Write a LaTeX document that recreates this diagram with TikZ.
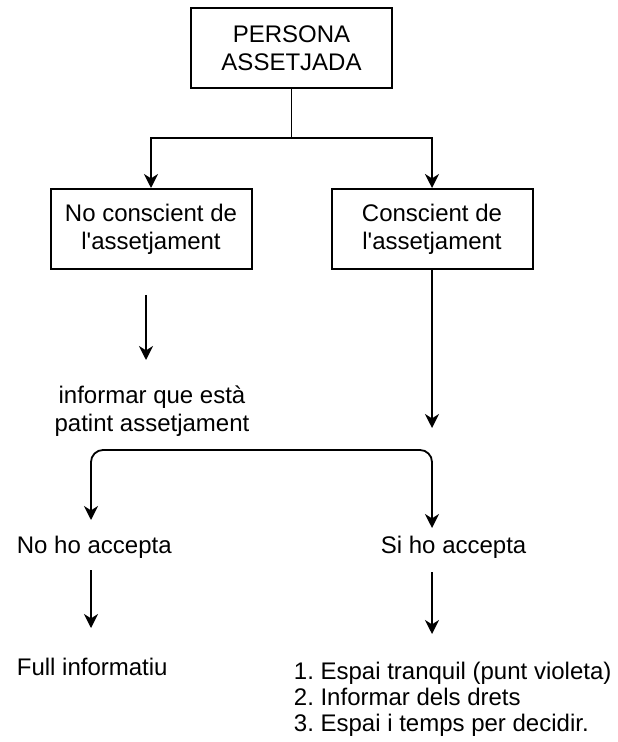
\documentclass[tikz,border=0pt]{standalone}
\usepackage{fontspec}
\setmainfont{Liberation Sans}
\usetikzlibrary{arrows.meta}
\frenchspacing

\begin{document}
\begin{tikzpicture}[x=0.5pt, y=-0.5pt, line width=0.9pt,
        every node/.style={font=\fontsize{12}{14}\selectfont, align=center, inner sep=0pt},
        box/.style={draw, line width=1pt, minimum width=100.5pt, minimum height=40pt},
        arr/.style={-{Stealth[length=7pt, width=7pt, inset=2.2pt]}},
        arrboth/.style={{Stealth[length=7pt, width=7pt, inset=2.2pt]}-{Stealth[length=7pt, width=7pt, inset=2.2pt]}}]
                \useasboundingbox (0,0) rectangle (617,742);
                \node[box] (persona) at (291.5,48.5) {PERSONA\\ASSETJADA};
                \node[box] (noconsc) at (151,229) {No conscient de\\l\textquotesingle assetjament};
                \node[box] (consc) at (432,229) {Conscient de\\l\textquotesingle assetjament};
                \coordinate (branch) at (291.5,138);
                \draw (persona) -- (branch);
                \draw[arr] (branch) -| (noconsc);
                \draw[arr] (branch) -| (consc);
                \node (informar) at (152,411) {informar que està\\patint assetjament};
                \coordinate (infTop) at (146,295);
                \coordinate (infTip) at (146,360);
                \draw[arr] (infTop) -- (infTip);
                \coordinate (conscTip) at (432,428);
                \draw[arr] (consc) -- (conscTip);
                \coordinate (splitL) at (91,450);
                \coordinate (splitR) at (432,450);
                \coordinate (noTip) at (91,520);
                \coordinate (siTip) at (432,528);
                \draw[arrboth, rounded corners=6pt] (noTip) -- (splitL) -- (splitR) -- (siTip);
                \node[anchor=west] (noacc) at (16,547) {No ho accepta};
                \node[anchor=west] (siacc) at (380,547) {Si ho accepta};
                \coordinate (noA) at (91,570);
                \coordinate (noB) at (91,628);
                \coordinate (siA) at (432,572);
                \coordinate (siB) at (432,634);
                \draw[arr] (noA) -- (noB);
                \draw[arr] (siA) -- (siB);
                \node[anchor=west] (full) at (16,667) {Full informatiu};
                \node[anchor=west, align=left, font=\fontsize{12}{13}\selectfont] (llista) at (293,699) {1. Espai tranquil (punt violeta)\\2. Informar dels drets\\3. Espai i temps per decidir.};
                \end{tikzpicture}
\end{document}
